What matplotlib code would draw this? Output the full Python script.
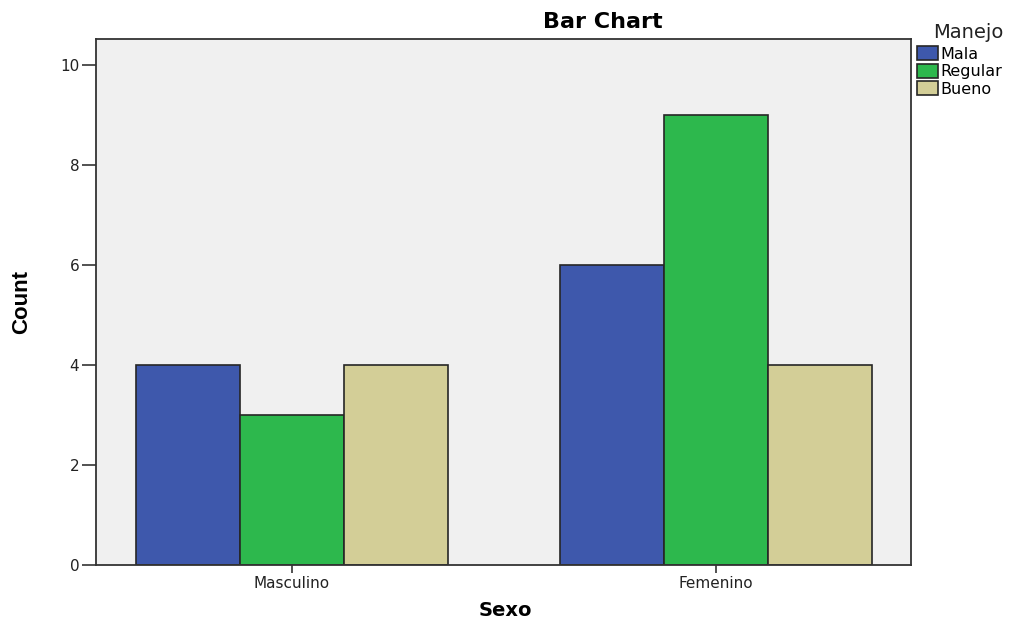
import matplotlib.pyplot as plt
import numpy as np

plt.rcParams["font.family"] = ["DejaVu Sans"]

# counts by sex, split by "Manejo" rating
sexo = ["Masculino", "Femenino"]
manejo = ["Mala", "Regular", "Bueno"]
mala = [4, 6]
regular = [3, 9]
bueno = [4, 4]
colores = ["#3e58ac", "#2db84d", "#d3ce97"]

fig = plt.figure(figsize=(10.19, 6.2), dpi=100)
ax = fig.add_axes([0.0942, 0.0887, 0.7998, 0.8484])
ax.set_facecolor("#f0f0f0")

x = np.arange(len(sexo))
w = 0.245
handles = []
for i, (vals, c) in enumerate(zip([mala, regular, bueno], colores)):
    b = ax.bar(x + (i - 1) * w, vals, w, color=c, edgecolor="#262626", linewidth=1.2)
    handles.append(b)

ax.set_xlim(-0.462, 1.46)
ax.set_ylim(0, 10.52)
ax.set_yticks([0, 2, 4, 6, 8, 10])
ax.set_xticks(x)
ax.set_xticklabels(sexo)
ax.tick_params(axis="both", width=1.2, color="#333333", labelsize=11,
               labelcolor="#222222", pad=2)
ax.tick_params(axis="y", length=10)
ax.tick_params(axis="x", length=6)
for s in ax.spines.values():
    s.set_color("#333333")
    s.set_linewidth(1.3)

fig.text(505 / 1019, 1 - 610 / 620, "Sexo", ha="center", va="center",
         fontsize=14, fontweight="bold")
fig.text(22 / 1019, 1 - 302 / 620, "Count", ha="center", va="center", rotation=90,
         fontsize=16, fontweight="bold", family="Liberation Sans")
fig.text(603 / 1019, 1 - 22 / 620, "Bar Chart", ha="center", va="center",
         fontsize=16, fontweight="bold")

fig.text(968 / 1019, 1 - 32 / 620, "Manejo", ha="center", va="center", fontsize=14,
         color="#222222")
leg = fig.legend(handles, manejo, loc="upper left", bbox_to_anchor=(917 / 1019, 1 - 46 / 620),
                 frameon=False, fontsize=11.5, handlelength=1.3, handleheight=1.0,
                 handletextpad=0.15, labelspacing=0.12, borderpad=0, borderaxespad=0)

fig.savefig("out.png", dpi=100, facecolor="white")
